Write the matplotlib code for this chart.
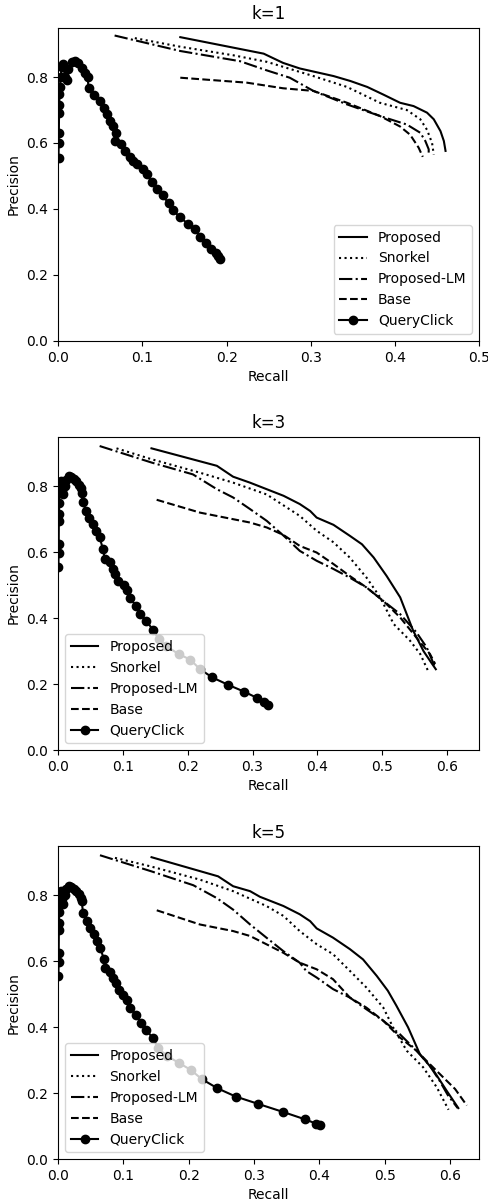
import matplotlib
matplotlib.use("Agg")
import matplotlib.pyplot as plt

# courbes precision / rappel pour k = 1, 3, 5
labels = ["Proposed", "Snorkel", "Proposed-LM", "Base", "QueryClick"]
titles = ["k=1", "k=3", "k=5"]

# --- k=1 ---
k1_prop_r = [0.145, 0.244, 0.267, 0.287, 0.327, 0.347, 0.367, 0.386, 0.406, 0.422, 0.438, 0.446, 0.454, 0.458, 0.460]
k1_prop_p = [0.921, 0.871, 0.843, 0.826, 0.803, 0.788, 0.770, 0.747, 0.722, 0.712, 0.692, 0.672, 0.636, 0.606, 0.576]
k1_snk_r = [0.091, 0.145, 0.208, 0.248, 0.303, 0.343, 0.382, 0.414, 0.430, 0.438, 0.444, 0.446]
k1_snk_p = [0.918, 0.892, 0.866, 0.846, 0.803, 0.770, 0.722, 0.700, 0.672, 0.640, 0.600, 0.565]
k1_lm_r = [0.067, 0.145, 0.216, 0.248, 0.275, 0.303, 0.343, 0.382, 0.414, 0.430, 0.436, 0.440, 0.440]
k1_lm_p = [0.926, 0.879, 0.848, 0.820, 0.798, 0.758, 0.717, 0.682, 0.656, 0.631, 0.606, 0.581, 0.561]
k1_base_r = [0.145, 0.224, 0.267, 0.303, 0.343, 0.382, 0.406, 0.418, 0.428, 0.433]
k1_base_p = [0.798, 0.783, 0.766, 0.758, 0.722, 0.682, 0.650, 0.625, 0.586, 0.558]
k1_qc_r = [0.0004, 0.0006, 0.0008, 0.001, 0.0012, 0.0015, 0.002, 0.003, 0.004, 0.006, 0.008, 0.010,
           0.012, 0.016, 0.020, 0.024, 0.028, 0.032, 0.035, 0.036, 0.042, 0.050, 0.054, 0.058, 0.061,
           0.065, 0.069, 0.068, 0.075, 0.079, 0.085, 0.089, 0.093, 0.101, 0.105, 0.111, 0.117, 0.124,
           0.131, 0.136, 0.145, 0.154, 0.162, 0.169, 0.176, 0.182, 0.187, 0.190, 0.192]
k1_qc_p = [0.555, 0.600, 0.630, 0.690, 0.715, 0.750, 0.770, 0.800, 0.830, 0.840, 0.800, 0.790,
           0.825, 0.845, 0.850, 0.842, 0.828, 0.813, 0.799, 0.768, 0.747, 0.727, 0.707, 0.687, 0.667,
           0.652, 0.631, 0.606, 0.596, 0.576, 0.556, 0.545, 0.535, 0.520, 0.505, 0.482, 0.459, 0.441,
           0.417, 0.397, 0.374, 0.355, 0.338, 0.316, 0.296, 0.278, 0.265, 0.258, 0.247]

# --- k=3 ---
k3_prop_r = [0.144, 0.245, 0.270, 0.296, 0.322, 0.348, 0.373, 0.389, 0.399, 0.425, 0.450, 0.469, 0.487, 0.507, 0.528, 0.548, 0.564, 0.577, 0.583]
k3_prop_p = [0.915, 0.862, 0.829, 0.811, 0.791, 0.771, 0.746, 0.725, 0.705, 0.683, 0.650, 0.624, 0.584, 0.528, 0.463, 0.362, 0.300, 0.262, 0.245]
k3_snk_r = [0.090, 0.144, 0.219, 0.270, 0.322, 0.373, 0.399, 0.425, 0.450, 0.476, 0.497, 0.518, 0.543, 0.559, 0.571]
k3_snk_p = [0.915, 0.882, 0.841, 0.811, 0.775, 0.710, 0.665, 0.630, 0.584, 0.523, 0.463, 0.382, 0.332, 0.291, 0.240]
k3_lm_r = [0.064, 0.144, 0.208, 0.245, 0.270, 0.296, 0.322, 0.348, 0.373, 0.399, 0.425, 0.450, 0.476, 0.502, 0.528, 0.553, 0.569, 0.582]
k3_lm_p = [0.922, 0.872, 0.836, 0.791, 0.766, 0.731, 0.695, 0.650, 0.604, 0.574, 0.549, 0.523, 0.493, 0.452, 0.412, 0.357, 0.311, 0.250]
k3_base_r = [0.152, 0.219, 0.296, 0.322, 0.348, 0.373, 0.399, 0.425, 0.450, 0.476, 0.502, 0.528, 0.553, 0.574, 0.582]
k3_base_p = [0.759, 0.720, 0.690, 0.675, 0.652, 0.619, 0.599, 0.564, 0.528, 0.493, 0.452, 0.402, 0.341, 0.291, 0.261]
k3_qc_r = [0.0004, 0.0006, 0.0008, 0.001, 0.0012, 0.0015, 0.002, 0.003, 0.004, 0.006, 0.008, 0.010,
           0.012, 0.016, 0.020, 0.024, 0.028, 0.032, 0.035, 0.036, 0.038, 0.043, 0.048, 0.053, 0.059,
           0.064, 0.069, 0.072, 0.080, 0.085, 0.088, 0.093, 0.101, 0.106, 0.111, 0.120, 0.126, 0.136,
           0.146, 0.155, 0.166, 0.186, 0.204, 0.219, 0.238, 0.262, 0.287, 0.307, 0.318, 0.324]
k3_qc_p = [0.555, 0.599, 0.624, 0.695, 0.715, 0.750, 0.780, 0.800, 0.815, 0.790, 0.775, 0.800,
           0.820, 0.830, 0.828, 0.822, 0.815, 0.805, 0.795, 0.781, 0.751, 0.726, 0.705, 0.685, 0.665,
           0.645, 0.610, 0.580, 0.570, 0.550, 0.534, 0.514, 0.499, 0.484, 0.460, 0.438, 0.413, 0.392,
           0.365, 0.337, 0.316, 0.291, 0.274, 0.245, 0.220, 0.198, 0.177, 0.158, 0.145, 0.138]

# --- k=5 ---
k5_prop_r = [0.143, 0.245, 0.268, 0.294, 0.309, 0.345, 0.370, 0.386, 0.396, 0.421, 0.447, 0.467, 0.488, 0.505, 0.518, 0.536, 0.554, 0.575, 0.595, 0.613]
k5_prop_p = [0.916, 0.858, 0.828, 0.813, 0.796, 0.768, 0.743, 0.722, 0.700, 0.672, 0.637, 0.606, 0.556, 0.511, 0.466, 0.400, 0.319, 0.269, 0.208, 0.155]
k5_snk_r = [0.087, 0.140, 0.217, 0.268, 0.319, 0.345, 0.370, 0.396, 0.421, 0.447, 0.472, 0.498, 0.513, 0.534, 0.559, 0.580, 0.598]
k5_snk_p = [0.914, 0.889, 0.848, 0.813, 0.768, 0.738, 0.692, 0.652, 0.622, 0.571, 0.521, 0.460, 0.400, 0.329, 0.279, 0.218, 0.150]
k5_lm_r = [0.064, 0.143, 0.207, 0.243, 0.268, 0.294, 0.319, 0.345, 0.370, 0.380, 0.396, 0.421, 0.447, 0.472, 0.498, 0.523, 0.549, 0.569, 0.584, 0.597, 0.612]
k5_lm_p = [0.922, 0.873, 0.831, 0.792, 0.757, 0.712, 0.672, 0.631, 0.596, 0.571, 0.551, 0.516, 0.490, 0.455, 0.420, 0.380, 0.329, 0.284, 0.239, 0.194, 0.155]
k5_base_r = [0.151, 0.217, 0.268, 0.294, 0.319, 0.345, 0.370, 0.396, 0.421, 0.447, 0.472, 0.498, 0.523, 0.549, 0.569, 0.590, 0.608, 0.626]
k5_base_p = [0.755, 0.712, 0.692, 0.677, 0.652, 0.626, 0.596, 0.576, 0.546, 0.490, 0.460, 0.420, 0.370, 0.329, 0.289, 0.248, 0.213, 0.163]
k5_qc_r = [0.0004, 0.0006, 0.0008, 0.001, 0.0012, 0.0015, 0.002, 0.003, 0.004, 0.006, 0.008, 0.010,
           0.012, 0.016, 0.020, 0.024, 0.028, 0.032, 0.035, 0.036, 0.038, 0.044, 0.049, 0.055, 0.059,
           0.064, 0.070, 0.072, 0.079, 0.084, 0.088, 0.093, 0.100, 0.105, 0.110, 0.119, 0.127, 0.135,
           0.145, 0.153, 0.166, 0.185, 0.203, 0.220, 0.244, 0.272, 0.306, 0.345, 0.378, 0.395, 0.401]
k5_qc_p = [0.555, 0.599, 0.624, 0.695, 0.715, 0.750, 0.780, 0.800, 0.815, 0.790, 0.775, 0.800,
           0.820, 0.828, 0.826, 0.820, 0.813, 0.803, 0.793, 0.783, 0.748, 0.724, 0.702, 0.682, 0.662,
           0.642, 0.608, 0.579, 0.569, 0.551, 0.534, 0.513, 0.499, 0.484, 0.460, 0.438, 0.412, 0.392,
           0.367, 0.337, 0.314, 0.292, 0.271, 0.243, 0.215, 0.190, 0.168, 0.143, 0.121, 0.108, 0.103]

panels = [
    [(k1_prop_r, k1_prop_p), (k1_snk_r, k1_snk_p), (k1_lm_r, k1_lm_p), (k1_base_r, k1_base_p), (k1_qc_r, k1_qc_p)],
    [(k3_prop_r, k3_prop_p), (k3_snk_r, k3_snk_p), (k3_lm_r, k3_lm_p), (k3_base_r, k3_base_p), (k3_qc_r, k3_qc_p)],
    [(k5_prop_r, k5_prop_p), (k5_snk_r, k5_snk_p), (k5_lm_r, k5_lm_p), (k5_base_r, k5_base_p), (k5_qc_r, k5_qc_p)],
]
xmax = [0.5, 0.65, 0.645]
legend_loc = ["lower right", "lower left", "lower left"]
styles = ["k-", "k:", "k-.", "k--", "k-o"]

fig = plt.figure(figsize=(4.89, 12), dpi=100)
bottoms = [0.716, 0.375, 0.034]

for i, series in enumerate(panels):
    ax = fig.add_axes([0.119, bottoms[i], 0.861, 0.261])
    for (r, p), st, lab in zip(series, styles, labels):
        ax.plot(r, p, st, label=lab)
    ax.set_xlim(0, xmax[i])
    ax.set_ylim(0, 0.95)
    ax.set_title(titles[i])
    ax.set_xlabel("Recall")
    ax.set_ylabel("Precision")
    ax.legend(loc=legend_loc[i])

fig.savefig("out.png", dpi=100)
